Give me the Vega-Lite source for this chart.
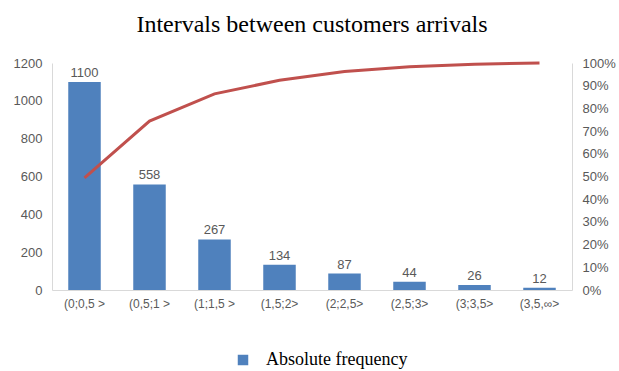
{
  "$schema": "https://vega.github.io/schema/vega-lite/v6.json",
  "width": 520,
  "height": 227,
  "autosize": {"type": "none"},
  "padding": {"left": 52, "top": 63, "right": 47, "bottom": 81},
  "background": "white",
  "config": {"view": {"stroke": null}},
  "title": {
    "text": "Intervals between customers arrivals",
    "font": "Liberation Serif",
    "fontSize": 24,
    "fontWeight": "normal",
    "color": "#000000",
    "anchor": "middle",
    "offset": 20
  },
  "data": {
    "values": [
      {"interval": "(0;0,5 >", "freq": 1100, "cum": 0.494},
      {"interval": "(0,5;1 >", "freq": 558, "cum": 0.744},
      {"interval": "(1;1,5 >", "freq": 267, "cum": 0.864},
      {"interval": "(1,5;2>", "freq": 134, "cum": 0.924},
      {"interval": "(2;2,5>", "freq": 87, "cum": 0.963},
      {"interval": "(2,5;3>", "freq": 44, "cum": 0.983},
      {"interval": "(3;3,5>", "freq": 26, "cum": 0.995},
      {"interval": "(3,5,∞>", "freq": 12, "cum": 1.0}
    ]
  },
  "encoding": {
    "x": {
      "field": "interval",
      "type": "nominal",
      "sort": null,
      "scale": {"paddingInner": 0.5, "paddingOuter": 0.25},
      "axis": {
        "title": null,
        "labelAngle": 0,
        "labelFont": "Liberation Sans",
        "labelFontSize": 12,
        "labelColor": "#595959",
        "labelPadding": 8,
        "ticks": false,
        "domainColor": "#D9D9D9"
      }
    }
  },
  "layer": [
    {
      "mark": {"type": "bar", "color": "#4F81BD"},
      "encoding": {
        "y": {
          "field": "freq",
          "type": "quantitative",
          "scale": {"domain": [0, 1200], "nice": false},
          "axis": {
            "title": null,
            "format": "d",
            "values": [0, 200, 400, 600, 800, 1000, 1200],
            "grid": false,
            "ticks": false,
            "domainColor": "#D9D9D9",
            "labelFont": "Liberation Sans",
            "labelFontSize": 13,
            "labelColor": "#595959",
            "labelPadding": 10
          }
        },
        "color": {
          "datum": "Absolute frequency",
          "type": "nominal",
          "scale": {"range": ["#4F81BD"]},
          "legend": {
            "title": null,
            "orient": "none",
            "legendX": 182,
            "legendY": 288,
            "symbolType": "square",
            "symbolSize": 110,
            "labelFont": "Liberation Serif",
            "labelFontSize": 18,
            "labelColor": "#000000",
            "labelOffset": 14
          }
        }
      }
    },
    {
      "mark": {"type": "text", "dy": -9, "font": "Liberation Sans", "fontSize": 13, "color": "#595959"},
      "encoding": {
        "y": {"field": "freq", "type": "quantitative", "scale": {"domain": [0, 1200], "nice": false}, "axis": null},
        "text": {"field": "freq", "type": "quantitative"}
      }
    },
    {
      "mark": {"type": "line", "color": "#C0504D", "strokeWidth": 3},
      "encoding": {
        "y": {
          "field": "cum",
          "type": "quantitative",
          "scale": {"domain": [0, 1], "nice": false},
          "axis": {
            "orient": "right",
            "title": null,
            "format": ".0%",
            "values": [0, 0.1, 0.2, 0.3, 0.4, 0.5, 0.6, 0.7, 0.8, 0.9, 1.0],
            "grid": false,
            "ticks": false,
            "domainColor": "#D9D9D9",
            "labelFont": "Liberation Sans",
            "labelFontSize": 13,
            "labelColor": "#595959",
            "labelPadding": 10
          }
        }
      }
    }
  ],
  "resolve": {"scale": {"y": "independent"}}
}
